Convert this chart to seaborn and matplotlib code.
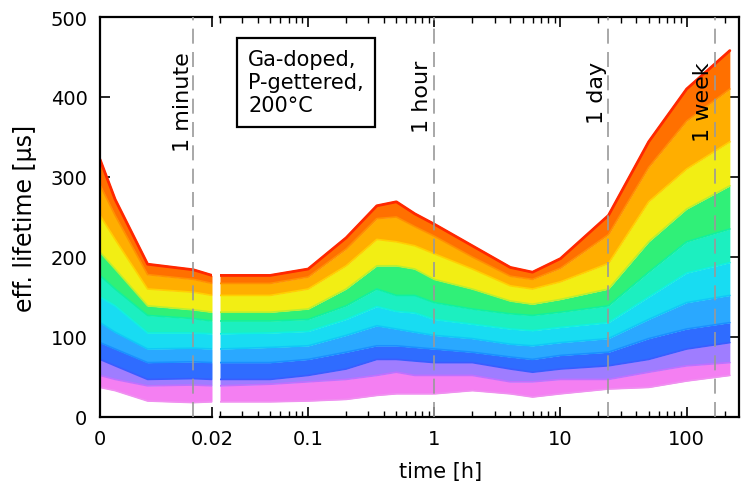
import numpy as np
import pandas as pd
import matplotlib.pyplot as plt
import seaborn as sns

# time after start of treatment [h]
t = [0, 0.0027, 0.0085, 0.0167, 0.02, 0.05, 0.1, 0.2, 0.35, 0.5, 0.7, 1, 2, 4, 6, 10, 24, 50, 100, 220]

# boundaries of the colour bands, bottom to top [µs]
c_bottom = [37, 33, 20, 18, 19, 19, 20, 22, 27, 29, 29, 29, 33, 29, 25, 29, 35, 37, 45, 52]
c_pink   = [52, 47, 39, 40, 39, 41, 44, 47, 52, 56, 52, 52, 52, 44, 44, 47, 47, 56, 64, 68]
c_violet = [72, 64, 47, 48, 47, 47, 52, 60, 72, 72, 70, 68, 68, 60, 56, 60, 64, 72, 85, 93]
c_blue   = [93, 85, 68, 69, 68, 68, 72, 81, 89, 89, 87, 85, 81, 75, 72, 77, 81, 98, 110, 118]
c_sky    = [118, 106, 85, 86, 85, 87, 89, 102, 114, 110, 106, 102, 98, 91, 89, 93, 98, 122, 143, 152]
c_aqua   = [150, 139, 105, 105, 104, 105, 107, 122, 138, 132, 130, 122, 116, 110, 108, 112, 118, 150, 180, 193]
c_cyan   = [177, 160, 127, 123, 120, 120, 122, 139, 160, 152, 152, 143, 135, 129, 127, 131, 139, 181, 219, 235]
c_green  = [206, 185, 139, 134, 131, 131, 135, 160, 189, 189, 185, 172, 160, 145, 141, 147, 160, 219, 260, 289]
c_yellow = [252, 222, 160, 156, 152, 152, 160, 189, 222, 219, 214, 204, 185, 164, 160, 169, 192, 269, 310, 344]
c_orange = [290, 252, 178, 172, 167, 167, 175, 210, 248, 250, 238, 226, 200, 176, 172, 186, 228, 312, 370, 410]
c_top    = [322, 272, 191, 184, 177, 177, 185, 224, 264, 269, 254, 241, 214, 187, 181, 198, 252, 344, 410, 458]

curves = [c_bottom, c_pink, c_violet, c_blue, c_sky, c_aqua, c_cyan, c_green,
          c_yellow, c_orange, c_top]
band_colors = ['#f47ff2', '#9f7dff', '#2f6cff', '#2aa8ff', '#18dcf2',
               '#1cefc0', '#30f078', '#f2ee14', '#ffae00', '#ff7000']
line_colors = ['#f090f0', '#c070ff', '#3a5cff', '#1a90ff', '#10c8f8', '#10f0e0',
               '#10f0a0', '#b8f030', '#ffd000', '#ff9000', '#ff3000']

marker_t = [1 / 60, 1, 24, 168]
marker_lbl = ['1 minute', '1 hour', '1 day', '1 week']

rows = []
for k, c in enumerate(curves):
    for ti, v in zip(t, c):
        rows.append((ti, v, k))
df = pd.DataFrame(rows, columns=['time', 'lifetime', 'curve'])

sns.set_style('ticks')
plt.rcParams['font.family'] = ['DejaVu Sans']
plt.rcParams['text.color'] = 'black'
plt.rcParams['font.size'] = 14

fig = plt.figure(figsize=(7.41, 4.89), dpi=100)
ax1 = fig.add_axes([100 / 741, 71 / 489, 112 / 741, 400 / 489])
ax2 = fig.add_axes([220 / 741, 71 / 489, 519 / 741, 400 / 489])
ax2.set_xscale('log')

tt = np.array(t)
for ax, sel in [(ax1, tt <= 0.02), (ax2, tt >= 0.02)]:
    for k in range(len(curves) - 1):
        ax.fill_between(tt[sel], np.array(curves[k])[sel], np.array(curves[k + 1])[sel],
                        color=band_colors[k], lw=0)
    part = df[df['time'].isin(tt[sel])]
    sns.lineplot(data=part, x='time', y='lifetime', hue='curve', palette=line_colors,
                 legend=False, estimator=None, sort=False, lw=1.2, ax=ax)
    sns.lineplot(data=part[part['curve'] == len(curves) - 1], x='time', y='lifetime',
                 color='#ff2800', lw=2, estimator=None, ax=ax)
    ax.set_ylim(0, 500)
    ax.set_xlabel('')
    ax.set_ylabel('')
    for s in ax.spines.values():
        s.set_linewidth(1.6)
        s.set_color('black')

# linear panel for the first minute
ax1.set_xlim(0, 0.02)
ax1.set_xticks([0, 0.02])
ax1.set_xticklabels(['0', '0.02'])
ax1.set_yticks([0, 100, 200, 300, 400, 500])
ax1.spines['right'].set_visible(False)
ax1.tick_params(direction='in', top=True, right=False, length=7, width=1.2,
                pad=9, labelsize=14, colors='black')

# log panel
ax2.set_xlim(0.02, 260)
ax2.set_xticks([0.1, 1, 10, 100])
ax2.set_xticklabels(['0.1', '1', '10', '100'])
ax2.set_yticks([0, 100, 200, 300, 400, 500])
ax2.spines['left'].set_visible(False)
ax2.tick_params(which='both', direction='in', top=True, left=False, right=True,
                labelleft=False, labelright=False, pad=9, labelsize=14, colors='black')
ax2.tick_params(which='major', length=7, width=1.2)
ax2.tick_params(which='minor', length=4, width=1)

# time markers
for ti, lbl in zip(marker_t, marker_lbl):
    ax = ax1 if ti < 0.02 else ax2
    ax.axvline(ti, color='#999999', lw=1.2, dashes=(9, 5), zorder=5)

ax1.text(0.0148, 457, '1 minute', rotation=90, ha='center', va='top', fontsize=16)
ax2.text(0.80, 447, '1 hour', rotation=90, ha='center', va='top', fontsize=16)
ax2.text(19.5, 445, '1 day', rotation=90, ha='center', va='top', fontsize=16)
ax2.text(135, 445, '1 week', rotation=90, ha='center', va='top', fontsize=16)

ax2.text(0.054, 0.92, 'Ga-doped,\nP-gettered,\n200°C', transform=ax2.transAxes,
         ha='left', va='top', fontsize=15, linespacing=1.2,
         bbox=dict(boxstyle='square,pad=0.55', fc='white', ec='black', lw=1.6))

fig.text(25 / 741, 1 - 218 / 489, 'eff. lifetime [µs]', rotation=90,
         ha='center', va='center', fontsize=17)
fig.text(441 / 741, 1 - 472 / 489, 'time [h]', ha='center', va='center', fontsize=15)

fig.savefig('out.png', dpi=100)
